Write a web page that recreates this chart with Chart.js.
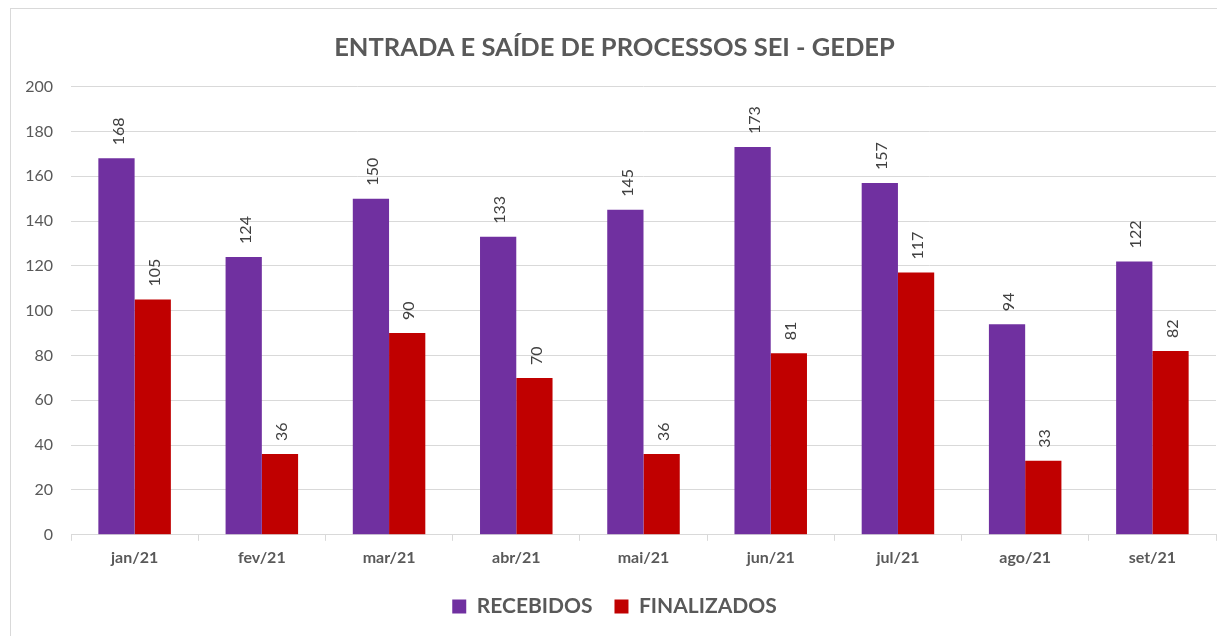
<!DOCTYPE html>
<html>
<head>
<meta charset="utf-8">
<script src="https://cdn.jsdelivr.net/npm/chart.js@4"></script>
<style>
  html, body { margin: 0; padding: 0; background: #fff; overflow: hidden; }
  #box { position: absolute; left: 10px; top: 8px; width: 1215px; height: 640px; border: 1px solid #d9d9d9; box-sizing: border-box; }
  #wrap { position: absolute; left: 0; top: 0; width: 1213px; height: 628px; }
</style>
</head>
<body>
<div id="box"><div id="wrap"><canvas id="gedepChart"></canvas></div></div>
<script>
// dados do gráfico
const meses = ['jan/21', 'fev/21', 'mar/21', 'abr/21', 'mai/21', 'jun/21', 'jul/21', 'ago/21', 'set/21'];
const recebidos = [168, 124, 150, 133, 145, 173, 157, 94, 122];
const finalizados = [105, 36, 90, 70, 36, 81, 117, 33, 82];
const eixoY = [0, 20, 40, 60, 80, 100, 120, 140, 160, 180, 200];

const FONTE = "Lato, 'Open Sans', sans-serif";

// rótulos verticais acima das barras
const rotulos = {
    id: 'rotulos',
    afterDatasetsDraw(chart) {
        const ctx = chart.ctx;
        chart.data.datasets.forEach((ds, i) => {
            const meta = chart.getDatasetMeta(i);
            meta.data.forEach((bar, j) => {
                ctx.save();
                ctx.translate(bar.x + 2, bar.y - 13);
                ctx.rotate(-Math.PI / 2);
                ctx.font = '16px ' + FONTE;
                ctx.fillStyle = '#404040';
                ctx.textAlign = 'left';
                ctx.textBaseline = 'middle';
                ctx.fillText(String(ds.data[j]), 0, 0);
                ctx.restore();
            });
        });
    }
};

const ctx = document.getElementById('gedepChart').getContext('2d');
const gedepChart = new Chart(ctx, {
    type: 'bar',
    data: {
        labels: meses,
        datasets: [{
            label: 'RECEBIDOS',
            data: recebidos,
            backgroundColor: '#7030A0',
            categoryPercentage: 0.57,
            barPercentage: 1.0
        }, {
            label: 'FINALIZADOS',
            data: finalizados,
            backgroundColor: '#C00000',
            categoryPercentage: 0.57,
            barPercentage: 1.0
        }]
    },
    options: {
        responsive: true,
        maintainAspectRatio: false,
        animation: false,
        layout: { padding: { left: 2, right: 8, top: 18, bottom: 10 } },
        scales: {
            x: {
                grid: { offset: true, drawOnChartArea: false, color: '#d9d9d9', tickLength: 6 },
                border: { color: '#d9d9d9' },
                ticks: { color: '#595959', font: { family: FONTE, size: 16, weight: 'bold' }, padding: 7 }
            },
            y: {
                min: 0,
                max: 200,
                afterBuildTicks(axis) { axis.ticks = eixoY.map(v => ({ value: v })); },
                afterFit(axis) { axis.width = 58; },
                grid: { color: '#d9d9d9', drawTicks: false },
                border: { display: false },
                ticks: { color: '#595959', font: { family: FONTE, size: 16 }, padding: 18 }
            }
        },
        plugins: {
            title: {
                display: true,
                text: 'ENTRADA E SAÍDE DE PROCESSOS SEI - GEDEP',
                color: '#595959',
                font: { family: FONTE, size: 25.5, weight: 'bold' },
                padding: { top: 5, bottom: 24 }
            },
            legend: {
                display: true,
                position: 'bottom',
                labels: {
                    color: '#595959',
                    font: { family: FONTE, size: 21, weight: 'bold' },
                    boxWidth: 14,
                    boxHeight: 14,
                    padding: 22
                }
            },
            tooltip: { enabled: false }
        }
    },
    plugins: [rotulos]
});
</script>
</body>
</html>
